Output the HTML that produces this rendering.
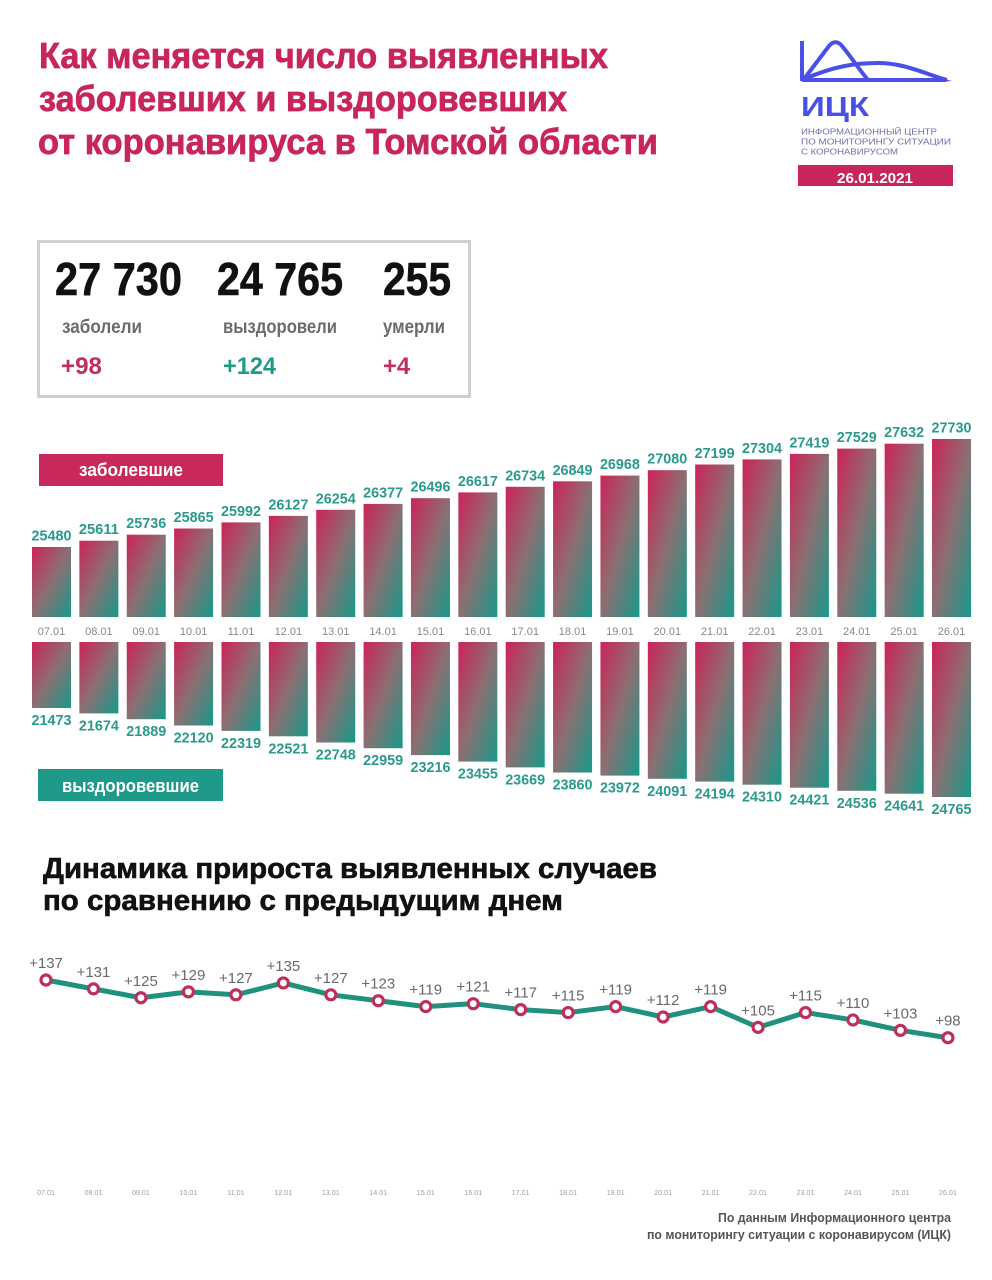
<!DOCTYPE html>
<html>
<head>
<meta charset="utf-8">
<style>
html,body{margin:0;padding:0;background:#fff;}
svg{display:block;}
text{font-family:"Liberation Sans","Noto Sans CJK SC",sans-serif;}
</style>
</head>
<body>
<svg width="992" height="1280" viewBox="0 0 992 1280" xmlns="http://www.w3.org/2000/svg">
<defs>
<linearGradient id="g" x1="0" y1="0" x2="1" y2="1">
<stop offset="0" stop-color="#cc2358"/>
<stop offset="0.5" stop-color="#8c6f72"/>
<stop offset="1" stop-color="#16998a"/>
</linearGradient>
</defs>
<rect width="992" height="1280" fill="#fff"/>

<!-- Title -->
<g font-weight="bold" font-size="36" fill="#c8265a" stroke="#c8265a" stroke-width="0.7">
<text x="39" y="68" textLength="569" lengthAdjust="spacingAndGlyphs">Как меняется число выявленных</text>
<text x="39" y="111" textLength="528" lengthAdjust="spacingAndGlyphs">заболевших и выздоровевших</text>
<text x="38" y="154" textLength="620" lengthAdjust="spacingAndGlyphs">от коронавируса в Томской области</text>
</g>

<!-- Logo -->
<g fill="none" stroke="#4a4fe8" stroke-width="4" stroke-linecap="butt">
<path d="M802,41 L802,81"/>
<path d="M802,80 L946,80"/>
<path d="M804,79 L829,46 C833,41 838,41 842,46 C852,58 858,68 868,80"/>
<path d="M804,79 C835,66 855,63 878,63 C905,63 925,74 947,80"/>
</g>
<path d="M940,78 L952,81 L940,82 Z" fill="#4a4fe8"/>
<text x="801" y="116" font-size="28" font-weight="bold" fill="#4a4fe8" textLength="68" lengthAdjust="spacingAndGlyphs">ИЦК</text>
<g font-size="8.5" fill="#6e6fa8">
<text x="801" y="134.5" textLength="136" lengthAdjust="spacingAndGlyphs">ИНФОРМАЦИОННЫЙ ЦЕНТР</text>
<text x="801" y="144.5" textLength="150" lengthAdjust="spacingAndGlyphs">ПО МОНИТОРИНГУ СИТУАЦИИ</text>
<text x="801" y="154.5" textLength="97" lengthAdjust="spacingAndGlyphs">С КОРОНАВИРУСОМ</text>
</g>
<rect x="798" y="165" width="155" height="21" fill="#c8265a"/>
<text x="837" y="183" font-size="15" font-weight="bold" fill="#fff" textLength="76" lengthAdjust="spacingAndGlyphs">26.01.2021</text>

<!-- Stats box -->
<rect x="38.5" y="241.5" width="431" height="155" fill="#fff" stroke="#d0d0d0" stroke-width="3"/>
<g font-size="46" font-weight="bold" fill="#111" stroke="#111" stroke-width="0.6">
<text x="55" y="295" textLength="127" lengthAdjust="spacingAndGlyphs">27 730</text>
<text x="217" y="295" textLength="126" lengthAdjust="spacingAndGlyphs">24 765</text>
<text x="383" y="295" textLength="68" lengthAdjust="spacingAndGlyphs">255</text>
</g>
<g font-size="19" font-weight="bold" fill="#6b6b6b">
<text x="62" y="333" textLength="80" lengthAdjust="spacingAndGlyphs">заболели</text>
<text x="223" y="333" textLength="114" lengthAdjust="spacingAndGlyphs">выздоровели</text>
<text x="383" y="333" textLength="62" lengthAdjust="spacingAndGlyphs">умерли</text>
</g>
<g font-size="24" font-weight="bold">
<text x="61" y="374" fill="#c0305e" textLength="41" lengthAdjust="spacingAndGlyphs">+98</text>
<text x="223" y="374" fill="#1f9a8a" textLength="53" lengthAdjust="spacingAndGlyphs">+124</text>
<text x="383" y="374" fill="#c0305e" textLength="27" lengthAdjust="spacingAndGlyphs">+4</text>
</g>

<!-- Legend boxes -->
<rect x="39" y="454" width="184" height="32" fill="#c8285a"/>
<text x="79" y="476" font-size="18" font-weight="bold" fill="#fff" textLength="104" lengthAdjust="spacingAndGlyphs">заболевшие</text>
<rect x="38" y="769" width="185" height="32" fill="#1f9a8a"/>
<text x="62" y="792" font-size="18" font-weight="bold" fill="#fff" textLength="137" lengthAdjust="spacingAndGlyphs">выздоровевшие</text>

<!-- Top bars -->
<g fill="url(#g)">
<rect x="32.00" y="547.0" width="39" height="70.0"/>
<rect x="79.37" y="540.7" width="39" height="76.3"/>
<rect x="126.74" y="534.7" width="39" height="82.3"/>
<rect x="174.11" y="528.5" width="39" height="88.5"/>
<rect x="221.48" y="522.4" width="39" height="94.6"/>
<rect x="268.85" y="515.9" width="39" height="101.1"/>
<rect x="316.22" y="509.8" width="39" height="107.2"/>
<rect x="363.59" y="503.9" width="39" height="113.1"/>
<rect x="410.96" y="498.2" width="39" height="118.8"/>
<rect x="458.33" y="492.4" width="39" height="124.6"/>
<rect x="505.70" y="486.8" width="39" height="130.2"/>
<rect x="553.07" y="481.3" width="39" height="135.7"/>
<rect x="600.44" y="475.6" width="39" height="141.4"/>
<rect x="647.81" y="470.2" width="39" height="146.8"/>
<rect x="695.18" y="464.5" width="39" height="152.5"/>
<rect x="742.55" y="459.4" width="39" height="157.6"/>
<rect x="789.92" y="453.9" width="39" height="163.1"/>
<rect x="837.29" y="448.6" width="39" height="168.4"/>
<rect x="884.66" y="443.7" width="39" height="173.3"/>
<rect x="932.03" y="439.0" width="39" height="178.0"/>
</g>
<g font-size="15" font-weight="bold" fill="#2a9a8c" text-anchor="middle">
<text x="51.5" y="540.5" textLength="40" lengthAdjust="spacingAndGlyphs">25480</text>
<text x="98.87" y="534.2" textLength="40" lengthAdjust="spacingAndGlyphs">25611</text>
<text x="146.24" y="528.2" textLength="40" lengthAdjust="spacingAndGlyphs">25736</text>
<text x="193.61" y="522.0" textLength="40" lengthAdjust="spacingAndGlyphs">25865</text>
<text x="240.98" y="515.9" textLength="40" lengthAdjust="spacingAndGlyphs">25992</text>
<text x="288.35" y="509.4" textLength="40" lengthAdjust="spacingAndGlyphs">26127</text>
<text x="335.72" y="503.3" textLength="40" lengthAdjust="spacingAndGlyphs">26254</text>
<text x="383.09" y="497.4" textLength="40" lengthAdjust="spacingAndGlyphs">26377</text>
<text x="430.46" y="491.7" textLength="40" lengthAdjust="spacingAndGlyphs">26496</text>
<text x="477.83" y="485.9" textLength="40" lengthAdjust="spacingAndGlyphs">26617</text>
<text x="525.2" y="480.3" textLength="40" lengthAdjust="spacingAndGlyphs">26734</text>
<text x="572.57" y="474.8" textLength="40" lengthAdjust="spacingAndGlyphs">26849</text>
<text x="619.94" y="469.1" textLength="40" lengthAdjust="spacingAndGlyphs">26968</text>
<text x="667.31" y="463.7" textLength="40" lengthAdjust="spacingAndGlyphs">27080</text>
<text x="714.68" y="458.0" textLength="40" lengthAdjust="spacingAndGlyphs">27199</text>
<text x="762.05" y="452.9" textLength="40" lengthAdjust="spacingAndGlyphs">27304</text>
<text x="809.42" y="447.4" textLength="40" lengthAdjust="spacingAndGlyphs">27419</text>
<text x="856.79" y="442.1" textLength="40" lengthAdjust="spacingAndGlyphs">27529</text>
<text x="904.16" y="437.2" textLength="40" lengthAdjust="spacingAndGlyphs">27632</text>
<text x="951.53" y="432.5" textLength="40" lengthAdjust="spacingAndGlyphs">27730</text>
</g>

<!-- Date labels -->
<g font-size="11" fill="#888" text-anchor="middle">
<text x="51.5" y="635">07.01</text>
<text x="98.87" y="635">08.01</text>
<text x="146.24" y="635">09.01</text>
<text x="193.61" y="635">10.01</text>
<text x="240.98" y="635">11.01</text>
<text x="288.35" y="635">12.01</text>
<text x="335.72" y="635">13.01</text>
<text x="383.09" y="635">14.01</text>
<text x="430.46" y="635">15.01</text>
<text x="477.83" y="635">16.01</text>
<text x="525.2" y="635">17.01</text>
<text x="572.57" y="635">18.01</text>
<text x="619.94" y="635">19.01</text>
<text x="667.31" y="635">20.01</text>
<text x="714.68" y="635">21.01</text>
<text x="762.05" y="635">22.01</text>
<text x="809.42" y="635">23.01</text>
<text x="856.79" y="635">24.01</text>
<text x="904.16" y="635">25.01</text>
<text x="951.53" y="635">26.01</text>
</g>

<!-- Bottom bars -->
<g fill="url(#g)">
<rect x="32.00" y="642" width="39" height="66.0"/>
<rect x="79.37" y="642" width="39" height="71.4"/>
<rect x="126.74" y="642" width="39" height="77.2"/>
<rect x="174.11" y="642" width="39" height="83.5"/>
<rect x="221.48" y="642" width="39" height="88.9"/>
<rect x="268.85" y="642" width="39" height="94.3"/>
<rect x="316.22" y="642" width="39" height="100.5"/>
<rect x="363.59" y="642" width="39" height="106.2"/>
<rect x="410.96" y="642" width="39" height="113.1"/>
<rect x="458.33" y="642" width="39" height="119.6"/>
<rect x="505.70" y="642" width="39" height="125.4"/>
<rect x="553.07" y="642" width="39" height="130.5"/>
<rect x="600.44" y="642" width="39" height="133.6"/>
<rect x="647.81" y="642" width="39" height="136.8"/>
<rect x="695.18" y="642" width="39" height="139.6"/>
<rect x="742.55" y="642" width="39" height="142.7"/>
<rect x="789.92" y="642" width="39" height="145.7"/>
<rect x="837.29" y="642" width="39" height="148.8"/>
<rect x="884.66" y="642" width="39" height="151.7"/>
<rect x="932.03" y="642" width="39" height="155.0"/>
</g>
<g font-size="15" font-weight="bold" fill="#2a9a8c" text-anchor="middle">
<text x="51.5" y="725" textLength="40" lengthAdjust="spacingAndGlyphs">21473</text>
<text x="98.87" y="730.4" textLength="40" lengthAdjust="spacingAndGlyphs">21674</text>
<text x="146.24" y="736.2" textLength="40" lengthAdjust="spacingAndGlyphs">21889</text>
<text x="193.61" y="742.5" textLength="40" lengthAdjust="spacingAndGlyphs">22120</text>
<text x="240.98" y="747.9" textLength="40" lengthAdjust="spacingAndGlyphs">22319</text>
<text x="288.35" y="753.3" textLength="40" lengthAdjust="spacingAndGlyphs">22521</text>
<text x="335.72" y="759.5" textLength="40" lengthAdjust="spacingAndGlyphs">22748</text>
<text x="383.09" y="765.2" textLength="40" lengthAdjust="spacingAndGlyphs">22959</text>
<text x="430.46" y="772.1" textLength="40" lengthAdjust="spacingAndGlyphs">23216</text>
<text x="477.83" y="778.6" textLength="40" lengthAdjust="spacingAndGlyphs">23455</text>
<text x="525.2" y="784.4" textLength="40" lengthAdjust="spacingAndGlyphs">23669</text>
<text x="572.57" y="789.5" textLength="40" lengthAdjust="spacingAndGlyphs">23860</text>
<text x="619.94" y="792.6" textLength="40" lengthAdjust="spacingAndGlyphs">23972</text>
<text x="667.31" y="795.8" textLength="40" lengthAdjust="spacingAndGlyphs">24091</text>
<text x="714.68" y="798.6" textLength="40" lengthAdjust="spacingAndGlyphs">24194</text>
<text x="762.05" y="801.7" textLength="40" lengthAdjust="spacingAndGlyphs">24310</text>
<text x="809.42" y="804.7" textLength="40" lengthAdjust="spacingAndGlyphs">24421</text>
<text x="856.79" y="807.8" textLength="40" lengthAdjust="spacingAndGlyphs">24536</text>
<text x="904.16" y="810.7" textLength="40" lengthAdjust="spacingAndGlyphs">24641</text>
<text x="951.53" y="814" textLength="40" lengthAdjust="spacingAndGlyphs">24765</text>
</g>

<!-- Second title -->
<g font-size="29" font-weight="bold" fill="#111" stroke="#111" stroke-width="0.6">
<text x="43" y="878" textLength="614" lengthAdjust="spacingAndGlyphs">Динамика прироста выявленных случаев</text>
<text x="43" y="910" textLength="520" lengthAdjust="spacingAndGlyphs">по сравнению с предыдущим днем</text>
</g>

<!-- Line chart -->
<polyline fill="none" stroke="#21917f" stroke-width="5" stroke-linejoin="round" points="46,980 93.47,988.88 140.94,997.76 188.41,991.84 235.88,994.8 283.35,982.96 330.82,994.8 378.29,1000.72 425.76,1006.64 473.23,1003.68 520.7,1009.6 568.17,1012.56 615.64,1006.64 663.11,1017 710.58,1006.64 758.05,1027.36 805.52,1012.56 852.99,1019.96 900.46,1030.32 947.93,1037.72"/>
<g fill="#fff" stroke="#bf2f5d" stroke-width="3.2">
<circle cx="46" cy="980" r="5"/>
<circle cx="93.47" cy="988.88" r="5"/>
<circle cx="140.94" cy="997.76" r="5"/>
<circle cx="188.41" cy="991.84" r="5"/>
<circle cx="235.88" cy="994.8" r="5"/>
<circle cx="283.35" cy="982.96" r="5"/>
<circle cx="330.82" cy="994.8" r="5"/>
<circle cx="378.29" cy="1000.72" r="5"/>
<circle cx="425.76" cy="1006.64" r="5"/>
<circle cx="473.23" cy="1003.68" r="5"/>
<circle cx="520.7" cy="1009.6" r="5"/>
<circle cx="568.17" cy="1012.56" r="5"/>
<circle cx="615.64" cy="1006.64" r="5"/>
<circle cx="663.11" cy="1017" r="5"/>
<circle cx="710.58" cy="1006.64" r="5"/>
<circle cx="758.05" cy="1027.36" r="5"/>
<circle cx="805.52" cy="1012.56" r="5"/>
<circle cx="852.99" cy="1019.96" r="5"/>
<circle cx="900.46" cy="1030.32" r="5"/>
<circle cx="947.93" cy="1037.72" r="5"/>
</g>
<g font-size="15" fill="#6a6a6a" text-anchor="middle">
<text x="46" y="968">+137</text>
<text x="93.47" y="976.9">+131</text>
<text x="140.94" y="985.8">+125</text>
<text x="188.41" y="979.8">+129</text>
<text x="235.88" y="982.8">+127</text>
<text x="283.35" y="971">+135</text>
<text x="330.82" y="982.8">+127</text>
<text x="378.29" y="988.7">+123</text>
<text x="425.76" y="994.6">+119</text>
<text x="473.23" y="991.7">+121</text>
<text x="520.7" y="997.6">+117</text>
<text x="568.17" y="1000.6">+115</text>
<text x="615.64" y="994.6">+119</text>
<text x="663.11" y="1005">+112</text>
<text x="710.58" y="994.6">+119</text>
<text x="758.05" y="1015.4">+105</text>
<text x="805.52" y="1000.6">+115</text>
<text x="852.99" y="1008">+110</text>
<text x="900.46" y="1018.3">+103</text>
<text x="947.93" y="1025.7">+98</text>
</g>
<g font-size="7.2" fill="#a0a0a0" text-anchor="middle">
<text x="46" y="1195">07.01</text>
<text x="93.47" y="1195">08.01</text>
<text x="140.94" y="1195">09.01</text>
<text x="188.41" y="1195">10.01</text>
<text x="235.88" y="1195">11.01</text>
<text x="283.35" y="1195">12.01</text>
<text x="330.82" y="1195">13.01</text>
<text x="378.29" y="1195">14.01</text>
<text x="425.76" y="1195">15.01</text>
<text x="473.23" y="1195">16.01</text>
<text x="520.7" y="1195">17.01</text>
<text x="568.17" y="1195">18.01</text>
<text x="615.64" y="1195">19.01</text>
<text x="663.11" y="1195">20.01</text>
<text x="710.58" y="1195">21.01</text>
<text x="758.05" y="1195">22.01</text>
<text x="805.52" y="1195">23.01</text>
<text x="852.99" y="1195">24.01</text>
<text x="900.46" y="1195">25.01</text>
<text x="947.93" y="1195">26.01</text>
</g>

<!-- Footer -->
<g font-size="13" font-weight="bold" fill="#555" text-anchor="end">
<text x="951" y="1222" textLength="233" lengthAdjust="spacingAndGlyphs">По данным Информационного центра</text>
<text x="951" y="1239" textLength="304" lengthAdjust="spacingAndGlyphs">по мониторингу ситуации с коронавирусом (ИЦК)</text>
</g>
</svg>
</body>
</html>
